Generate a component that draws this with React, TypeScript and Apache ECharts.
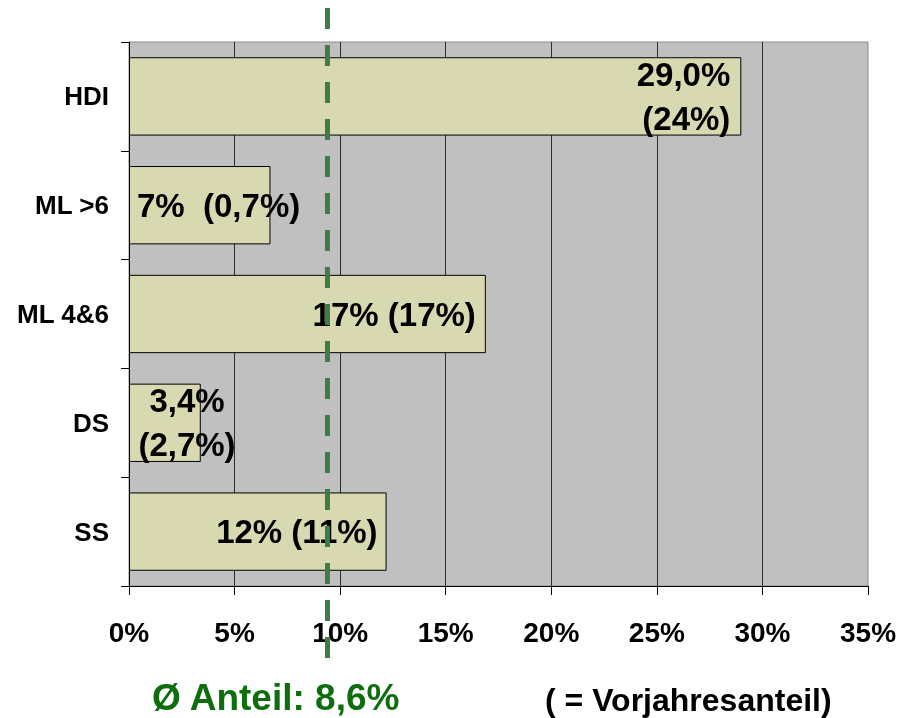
import React, { useEffect, useRef } from "react";
import * as echarts from "echarts";

// ---- data ----
const categories = ["HDI", "ML >6", "ML 4&6", "DS", "SS"];
const shareValues = [29.0, 6.7, 16.9, 3.4, 12.2];
const shareLabels = ["29,0%", "7%", "17%", "3,4%", "12%"];
const priorYearLabels = ["24%", "0,7%", "17%", "2,7%", "11%"];
const xMin = 0;
const xMax = 35;
const xInterval = 5;
const avgLinePosition = 9.4;
const avgLabel = "Ø Anteil: 8,6%";
const priorYearNote = "( = Vorjahresanteil)";

// ---- label styling per bar ----
const labelStyles: any[] = [
  { sep: "\n", position: "insideRight", distance: 11, align: "right" },
  { sep: "  ", position: "insideLeft", distance: 8, align: "left" },
  { sep: " ", position: "insideRight", distance: 10, align: "right" },
  { sep: "\n", position: [58, "50%"], align: "center", verticalAlign: "middle" },
  { sep: " ", position: "insideRight", distance: 9, align: "right" },
];

const FONT = '"Liberation Sans", Arial, Helvetica, sans-serif';

export default function App() {
  const ref = useRef<HTMLDivElement>(null);

  useEffect(() => {
    if (!ref.current) return;
    const chart = echarts.init(ref.current, null, { renderer: "svg" });

    const data = shareValues.map((v, i) => {
      const ls = labelStyles[i];
      const label: any = {
        show: true,
        position: ls.position,
        align: ls.align,
        formatter: shareLabels[i] + ls.sep + "(" + priorYearLabels[i] + ")",
      };
      if (ls.distance !== undefined) label.distance = ls.distance;
      if (ls.verticalAlign) label.verticalAlign = ls.verticalAlign;
      return { value: v, label };
    });

    const option: any = {
      animation: false,
      grid: {
        left: 129,
        right: 44,
        top: 42,
        bottom: 132,
        containLabel: false,
        outerBoundsMode: "none",
        show: true,
        backgroundColor: "#c0c0c0",
        borderColor: "#8a8a8a",
        borderWidth: 1,
      },
      xAxis: {
        type: "value",
        min: xMin,
        max: xMax,
        interval: xInterval,
        axisLine: { show: true, lineStyle: { color: "#000", width: 1 } },
        axisTick: { show: true, length: 9, lineStyle: { color: "#000", width: 1 } },
        axisLabel: {
          formatter: "{value}%",
          fontFamily: FONT,
          fontWeight: "bold",
          fontSize: 28,
          color: "#000",
          margin: 32,
        },
        splitLine: {
          show: true,
          showMinLine: false,
          showMaxLine: false,
          lineStyle: { color: "#2e2e2e", width: 1 },
        },
      },
      yAxis: {
        type: "category",
        inverse: true,
        data: categories,
        axisLine: { show: true, lineStyle: { color: "#000", width: 1 } },
        axisTick: { show: true, length: 8, lineStyle: { color: "#000", width: 1 } },
        axisLabel: {
          fontFamily: FONT,
          fontWeight: "bold",
          fontSize: 26,
          color: "#000",
          margin: 20,
        },
        splitLine: { show: false },
      },
      series: [
        {
          type: "bar",
          data,
          barWidth: "72%",
          itemStyle: { color: "#d8d9b0", borderColor: "#000", borderWidth: 1 },
          label: {
            show: true,
            fontFamily: FONT,
            fontWeight: "bold",
            fontSize: 33,
            lineHeight: 44,
            color: "#000",
          },
          z: 2,
        },
      ],
    };

    chart.setOption(option);

    const lx = chart.convertToPixel({ xAxisIndex: 0 }, avgLinePosition) as number;
    chart.setOption({
      graphic: [
        {
          type: "line",
          z: 100,
          shape: { x1: lx, y1: 8, x2: lx, y2: 664 },
          style: { stroke: "#3d7d47", lineWidth: 5, lineDash: [21, 16] },
        },
        {
          type: "text",
          z: 100,
          x: 152,
          y: 697,
          style: {
            text: avgLabel,
            fill: "#0e6e0e",
            font: 'bold 37px "Liberation Sans", Arial, sans-serif',
            align: "left",
            verticalAlign: "middle",
          },
        },
        {
          type: "text",
          z: 100,
          x: 545,
          y: 700,
          style: {
            text: priorYearNote,
            fill: "#000",
            font: 'bold 32px "Liberation Sans", Arial, sans-serif',
            align: "left",
            verticalAlign: "middle",
          },
        },
      ],
    });

    return () => chart.dispose();
  }, []);

  return (
    <div
      ref={ref}
      style={{ position: "fixed", left: 0, top: 0, width: 912, height: 718 }}
    />
  );
}
